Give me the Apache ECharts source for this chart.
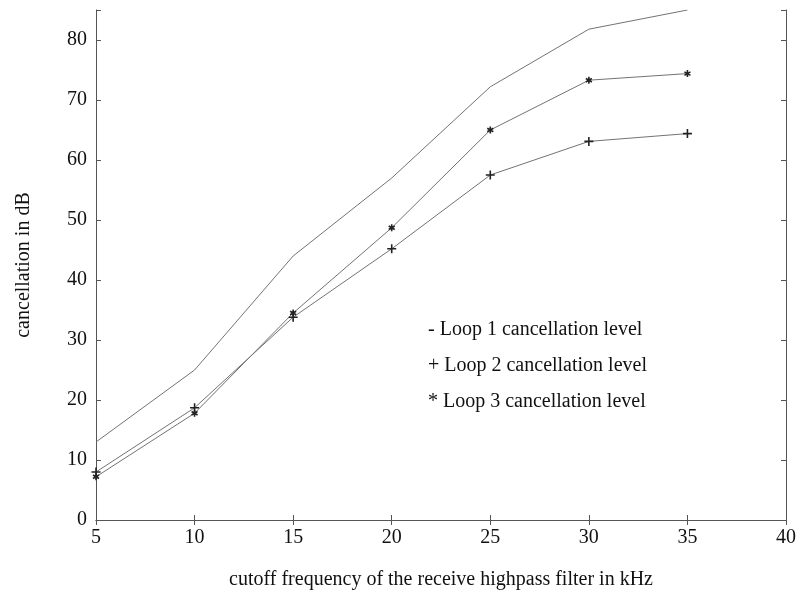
<!DOCTYPE html>
<html>
<head>
<meta charset="utf-8">
<script src="https://cdn.jsdelivr.net/npm/echarts@6/dist/echarts.min.js"></script>
<style>
  html, body { margin: 0; padding: 0; background: #fff; }
  #chart { width: 802px; height: 593px; }
</style>
</head>
<body>
<div id="chart"></div>
<script>
// Cutoff frequency of the receive highpass filter (kHz)
const cutoffKHz = [5, 10, 15, 20, 25, 30, 35];
// Cancellation levels (dB) per loop
const loop1 = [13.0, 25.0, 44.0, 57.0, 72.2, 81.8, 85.0];
const loop2 = [8.0, 18.7, 33.8, 45.2, 57.5, 63.1, 64.4];
const loop3 = [7.2, 17.8, 34.5, 48.7, 65.0, 73.3, 74.4];
const seriesNames = ['Loop 1 cancellation level', 'Loop 2 cancellation level', 'Loop 3 cancellation level'];
const legendMarks = ['-', '+', '*'];

const serif = '"Liberation Serif", "DejaVu Serif", serif';
const textColor = '#111';
const lineColor = '#737373';
const axisColor = '#555';

const plusPath = 'path://M5,0L5,10M0,5L10,5';
const starPath = 'path://M5,0L5,10M0.7,2.5L9.3,7.5M0.7,7.5L9.3,2.5';

function pairs(ys) { return cutoffKHz.map((x, i) => [x, ys[i]]); }

const chart = echarts.init(document.getElementById('chart'), null, { renderer: 'canvas' });

const axisLineStyle = { lineStyle: { color: axisColor, width: 1 } };
const tickStyle = { inside: true, length: 5, lineStyle: { color: axisColor, width: 1 } };

chart.setOption({
  backgroundColor: '#fff',
  animation: false,
  grid: { left: 96, right: 16, top: 10, bottom: 73, containLabel: false, outerBoundsMode: 'none' },
  legend: {
    orient: 'vertical',
    left: 418,
    top: 315,
    itemGap: 16,
    icon: 'none',
    itemWidth: 0,
    itemHeight: 10,
    selectedMode: false,
    data: seriesNames,
    formatter: name => legendMarks[seriesNames.indexOf(name)] + ' ' + name,
    textStyle: { fontFamily: serif, fontSize: 20, color: textColor, padding: 0 }
  },
  xAxis: [
    {
      type: 'value', min: 5, max: 40, interval: 5,
      name: 'cutoff frequency of the receive highpass filter in kHz',
      nameLocation: 'middle', nameGap: 50,
      nameTextStyle: { fontFamily: serif, fontSize: 20, color: textColor },
      axisLine: axisLineStyle, axisTick: tickStyle,
      axisLabel: { fontFamily: serif, fontSize: 20, color: textColor, margin: 8 },
      splitLine: { show: false }
    },
    {
      type: 'value', min: 5, max: 40, interval: 5, position: 'top',
      axisLine: axisLineStyle, axisTick: tickStyle,
      axisLabel: { show: false }, splitLine: { show: false }
    }
  ],
  yAxis: [
    {
      type: 'value', min: 0, max: 85, interval: 10,
      name: 'cancellation in dB',
      nameLocation: 'middle', nameGap: 62, nameRotate: 90,
      nameTextStyle: { fontFamily: serif, fontSize: 20, color: textColor },
      axisLine: axisLineStyle, axisTick: tickStyle,
      axisLabel: {
        fontFamily: serif, fontSize: 20, color: textColor, margin: 9,
        formatter: v => (v % 10 === 0 ? String(v) : '')
      },
      splitLine: { show: false }
    },
    {
      type: 'value', min: 0, max: 85, interval: 10, position: 'right',
      axisLine: axisLineStyle, axisTick: tickStyle,
      axisLabel: { show: false }, splitLine: { show: false }
    }
  ],
  series: [
    {
      name: seriesNames[0], type: 'line', data: pairs(loop1),
      showSymbol: false, symbol: 'none',
      lineStyle: { color: lineColor, width: 1 },
      itemStyle: { color: lineColor }
    },
    {
      name: seriesNames[1], type: 'line', data: pairs(loop2),
      symbol: plusPath, symbolSize: 9, symbolKeepAspect: true,
      lineStyle: { color: lineColor, width: 1 },
      itemStyle: { color: 'none', borderColor: '#222', borderWidth: 1.6 }
    },
    {
      name: seriesNames[2], type: 'line', data: pairs(loop3),
      symbol: starPath, symbolSize: 7, symbolKeepAspect: true,
      lineStyle: { color: lineColor, width: 1 },
      itemStyle: { color: 'none', borderColor: '#222', borderWidth: 1.6 }
    }
  ]
});
</script>
</body>
</html>
